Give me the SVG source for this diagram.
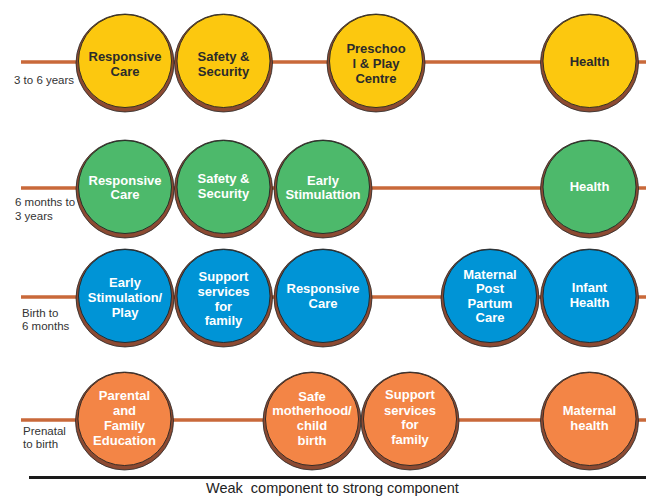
<svg xmlns="http://www.w3.org/2000/svg" width="646" height="496" viewBox="0 0 646 496">
<style>
.ln{stroke:#C9693A;stroke-width:3.5;fill:none}
.ring{fill:#8C4A32;stroke:#2a2a2a;stroke-width:0.8}
.c{stroke:#222;stroke-width:0.9}
.y{fill:#FCC80F}
.g{fill:#4DB96B}
.b{fill:#0094D6}
.o{fill:#F38546}
.t{font-family:"Liberation Sans",Arial,sans-serif;font-weight:bold;font-size:13px;text-anchor:middle;fill:#fff}
.dk{fill:#2b2b2b}
.lab{font-family:"Liberation Sans",Arial,sans-serif;font-size:11.5px;fill:#333}
</style>
<rect width="646" height="496" fill="#fff"/>
<g id="connectors">
<line class="ln" x1="21" y1="62" x2="646" y2="62"/>
<line class="ln" x1="21" y1="188" x2="646" y2="188"/>
<line class="ln" x1="21" y1="297" x2="646" y2="297"/>
<line class="ln" x1="21" y1="420" x2="646" y2="420"/>
<line x1="29" y1="477.5" x2="646" y2="477.5" stroke="#1a1a1a" stroke-width="3.2"/>
</g>
<g id="labels">
<text class="lab" x="14" y="84">3 to 6 years</text>
<text class="lab" x="15" y="206">6 months to</text>
<text class="lab" x="15" y="219.5">3 years</text>
<text class="lab" x="22" y="317">Birth to</text>
<text class="lab" x="22" y="330">6 months</text>
<text class="lab" x="23" y="435">Prenatal</text>
<text class="lab" x="23" y="447.5">to birth</text>
<text x="206" y="492.5" xml:space="preserve" style="white-space:pre" font-family="Liberation Sans, Arial, sans-serif" font-size="14.5" fill="#222">Weak  component to strong component</text>
</g>
<!-- Row 1 -->
<g id="r1-responsive"><circle class="ring" cx="125" cy="63" r="49"/><circle class="c y" cx="125" cy="61" r="46.5"/><text class="t dk"><tspan x="125" y="60.5">Responsive</tspan><tspan x="125" y="75.5">Care</tspan></text></g>
<g id="r1-safety"><circle class="ring" cx="223.5" cy="63" r="49"/><circle class="c y" cx="223.5" cy="61" r="46.5"/><text class="t dk"><tspan x="223.5" y="61">Safety &amp;</tspan><tspan x="223.5" y="76">Security</tspan></text></g>
<g id="r1-preschool"><circle class="ring" cx="376" cy="63" r="49"/><circle class="c y" cx="376" cy="61" r="46.5"/><text class="t dk"><tspan x="376" y="52.5">Preschoo</tspan><tspan x="376" y="67.5">l &amp; Play</tspan><tspan x="376" y="82.5">Centre</tspan></text></g>
<g id="r1-health"><circle class="ring" cx="589.5" cy="63" r="49"/><circle class="c y" cx="589.5" cy="61" r="46.5"/><text class="t dk" x="589.5" y="66">Health</text></g>
<!-- Row 2 -->
<g id="r2-responsive"><circle class="ring" cx="125" cy="189" r="49"/><circle class="c g" cx="125" cy="187" r="46.5"/><text class="t"><tspan x="125" y="184.5">Responsive</tspan><tspan x="125" y="198.5">Care</tspan></text></g>
<g id="r2-safety"><circle class="ring" cx="223.5" cy="189" r="49"/><circle class="c g" cx="223.5" cy="187" r="46.5"/><text class="t"><tspan x="223.5" y="182.5">Safety &amp;</tspan><tspan x="223.5" y="197.5">Security</tspan></text></g>
<g id="r2-early"><circle class="ring" cx="323" cy="189" r="49"/><circle class="c g" cx="323" cy="187" r="46.5"/><text class="t"><tspan x="323" y="184.5">Early</tspan><tspan x="323" y="198.5">Stimulattion</tspan></text></g>
<g id="r2-health"><circle class="ring" cx="589.5" cy="189" r="49"/><circle class="c g" cx="589.5" cy="187" r="46.5"/><text class="t" x="589.5" y="191">Health</text></g>
<!-- Row 3 -->
<g id="r3-early"><circle class="ring" cx="125" cy="298" r="49"/><circle class="c b" cx="125" cy="296" r="46.5"/><text class="t"><tspan x="125" y="286.5">Early</tspan><tspan x="125" y="301.5">Stimulation/</tspan><tspan x="125" y="316.5">Play</tspan></text></g>
<g id="r3-support"><circle class="ring" cx="223.5" cy="298" r="49"/><circle class="c b" cx="223.5" cy="296" r="46.5"/><text class="t"><tspan x="223.5" y="281">Support</tspan><tspan x="223.5" y="295.5">services</tspan><tspan x="223.5" y="310.5">for</tspan><tspan x="223.5" y="325">family</tspan></text></g>
<g id="r3-responsive"><circle class="ring" cx="323" cy="298" r="49"/><circle class="c b" cx="323" cy="296" r="46.5"/><text class="t"><tspan x="323" y="292.5">Responsive</tspan><tspan x="323" y="307.5">Care</tspan></text></g>
<g id="r3-maternal"><circle class="ring" cx="490" cy="298" r="49"/><circle class="c b" cx="490" cy="296" r="46.5"/><text class="t"><tspan x="490" y="278.5">Maternal</tspan><tspan x="490" y="293">Post</tspan><tspan x="490" y="307.5">Partum</tspan><tspan x="490" y="322">Care</tspan></text></g>
<g id="r3-infant"><circle class="ring" cx="589.5" cy="298" r="49"/><circle class="c b" cx="589.5" cy="296" r="46.5"/><text class="t"><tspan x="589.5" y="292">Infant</tspan><tspan x="589.5" y="306.5">Health</tspan></text></g>
<!-- Row 4 -->
<g id="r4-parental"><circle class="ring" cx="124.5" cy="421" r="49"/><circle class="c o" cx="124.5" cy="419" r="46.5"/><text class="t"><tspan x="124.5" y="400">Parental</tspan><tspan x="124.5" y="415">and</tspan><tspan x="124.5" y="430">Family</tspan><tspan x="124.5" y="444.5">Education</tspan></text></g>
<g id="r4-safe"><circle class="ring" cx="312" cy="421" r="49"/><circle class="c o" cx="312" cy="419" r="46.5"/><text class="t"><tspan x="312" y="400.5">Safe</tspan><tspan x="312" y="415">motherhood/</tspan><tspan x="312" y="430">child</tspan><tspan x="312" y="444.5">birth</tspan></text></g>
<g id="r4-support"><circle class="ring" cx="410" cy="421" r="49"/><circle class="c o" cx="410" cy="419" r="46.5"/><text class="t"><tspan x="410" y="399">Support</tspan><tspan x="410" y="414.5">services</tspan><tspan x="410" y="429">for</tspan><tspan x="410" y="443.5">family</tspan></text></g>
<g id="r4-maternal"><circle class="ring" cx="589.5" cy="421" r="49"/><circle class="c o" cx="589.5" cy="419" r="46.5"/><text class="t"><tspan x="589.5" y="415">Maternal</tspan><tspan x="589.5" y="430">health</tspan></text></g>
</svg>
